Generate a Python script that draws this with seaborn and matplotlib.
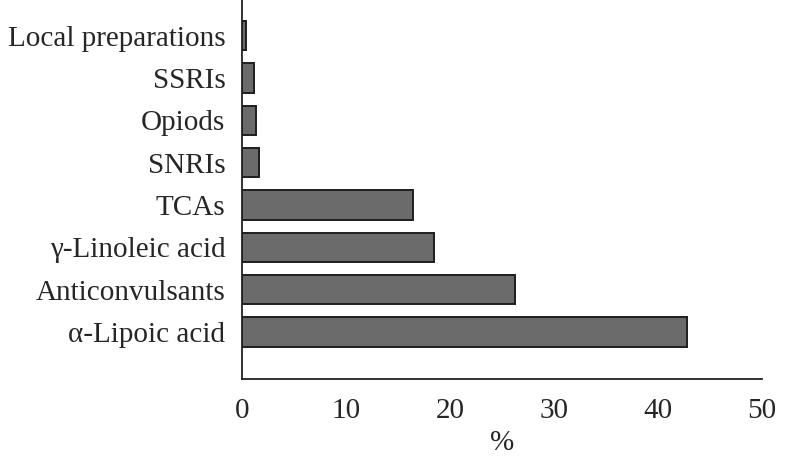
import pandas as pd
import matplotlib
matplotlib.use("Agg")
import matplotlib.pyplot as plt
import seaborn as sns

# -----------------------------
# Data
# -----------------------------
drugs = [
    "Local preparations",
    "SSRIs",
    "Opiods",
    "SNRIs",
    "TCAs",
    "\u03b3-Linoleic acid",
    "Anticonvulsants",
    "\u03b1-Lipoic acid",
]
percent = [0.4, 1.15, 1.3, 1.65, 16.4, 18.5, 26.25, 42.75]
x_ticks = [0, 10, 20, 30, 40, 50]

df = pd.DataFrame({"drug": drugs, "percent": percent})

# -----------------------------
# Plot
# -----------------------------
sns.set_style("white")
plt.rcParams["font.family"] = ["Liberation Serif", "DejaVu Serif"]

fig = plt.figure(figsize=(7.89, 4.62), dpi=100)
ax = fig.add_axes([0.3067, 0.1797, 0.6591, 0.8203])

sns.barplot(
    data=df,
    y="drug",
    x="percent",
    orient="h",
    color="#6b6b6b",
    saturation=1,
    width=0.69,
    edgecolor="#1e1e1e",
    linewidth=1.4,
    ax=ax,
)

ax.set_xlim(0, 50)
ax.set_ylim(8.11, -0.84)
ax.set_xticks(x_ticks)
ax.set_xticklabels([str(t) for t in x_ticks], fontsize=21)
ax.tick_params(axis="x", direction="in", length=6, width=1.3, color="#222222", pad=14)
ax.tick_params(axis="y", length=0, labelsize=21, pad=12)
ax.set_ylabel("")
ax.set_xlabel("%", fontsize=21, labelpad=4)

for side in ["top", "right"]:
    ax.spines[side].set_visible(False)
for side in ["left", "bottom"]:
    ax.spines[side].set_color("#222222")
    ax.spines[side].set_linewidth(1.3)

plt.savefig("out.png", dpi=100)
